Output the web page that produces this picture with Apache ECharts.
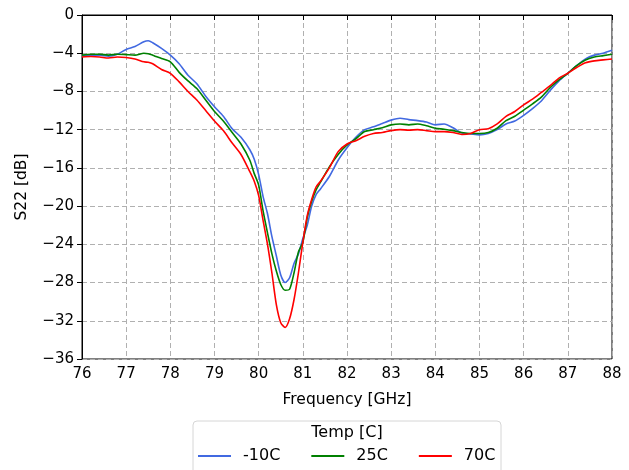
<!DOCTYPE html>
<html>
<head>
<meta charset="utf-8">
<script src="https://cdn.jsdelivr.net/npm/echarts@6/dist/echarts.min.js"></script>
<style>
  html, body { margin: 0; padding: 0; background: #ffffff; }
  #chart { width: 629px; height: 470px; }
</style>
</head>
<body>
<div id="chart"></div>
<script>
// Frequency sweep points (GHz)
const freqGHz = [
  76.0, 76.2, 76.4, 76.6, 76.8, 77.0, 77.2, 77.4, 77.5, 77.6, 77.8,
  78.0, 78.2, 78.4, 78.6, 78.8, 79.0, 79.2, 79.4, 79.6, 79.8, 79.9,
  80.0, 80.1, 80.2, 80.3, 80.4, 80.5, 80.6, 80.7, 80.8, 80.9,
  81.0, 81.1, 81.2, 81.3, 81.4, 81.6, 81.8,
  82.0, 82.2, 82.4, 82.6, 82.8, 83.0, 83.2, 83.4, 83.6, 83.8,
  84.0, 84.2, 84.4, 84.6, 84.8, 85.0, 85.2, 85.4, 85.6, 85.8,
  86.0, 86.2, 86.4, 86.6, 86.8, 87.0, 87.2, 87.4, 87.6, 87.8, 88.0
];

// S22 (dB) per temperature
const s22Minus10C = [
  -4.3, -4.2, -4.2, -4.3, -4.1, -3.6, -3.3, -2.8, -2.7, -2.9, -3.5,
  -4.2, -5.1, -6.3, -7.2, -8.5, -9.6, -10.6, -11.9, -12.8, -14.1, -15.1,
  -16.7, -19.0, -20.8, -23.2, -25.2, -27.2, -28.0, -27.5, -26.0, -25.0,
  -23.4, -22.0, -20.0, -18.8, -18.2, -16.9, -15.2,
  -13.9, -12.8, -12.0, -11.7, -11.35, -11.0, -10.8, -10.95, -11.05, -11.2,
  -11.5, -11.4, -11.8, -12.35, -12.45, -12.55, -12.4, -12.0, -11.4, -11.1,
  -10.5, -9.8, -9.0, -7.9, -6.9, -6.1, -5.3, -4.6, -4.2, -4.0, -3.7
];
const s22Plus25C = [
  -4.2, -4.1, -4.1, -4.2, -4.1, -4.15, -4.2, -4.0, -4.05, -4.2, -4.55,
  -4.9, -6.0, -6.9, -7.7, -8.9, -10.1, -11.1, -12.3, -13.5, -15.2, -16.6,
  -17.8, -20.5, -22.8, -25.0, -26.8, -28.2, -28.8, -28.7, -27.0, -24.8,
  -23.8, -21.2, -19.5, -18.3, -17.5, -15.9, -14.6,
  -13.6, -12.95, -12.2, -12.0, -11.8, -11.5, -11.4, -11.5, -11.4, -11.6,
  -11.85, -11.95, -12.1, -12.3, -12.4, -12.4, -12.3, -11.85, -11.05, -10.6,
  -9.95, -9.3, -8.6, -7.6, -6.8, -6.1, -5.3, -4.7, -4.4, -4.25, -4.1
];
const s22Plus70C = [
  -4.4, -4.35, -4.4, -4.5, -4.4, -4.45, -4.6, -4.9, -4.95, -5.1, -5.7,
  -6.1, -7.0, -8.0, -8.9, -10.0, -11.1, -12.1, -13.4, -14.6, -16.4, -17.4,
  -18.9, -21.5, -24.0, -27.0, -30.3, -32.2, -32.7, -31.8, -29.8, -27.0,
  -23.8, -21.0, -19.3, -18.0, -17.4, -16.0, -14.3,
  -13.5, -13.15, -12.7, -12.4, -12.3, -12.1, -12.0, -12.05, -12.0, -12.1,
  -12.2, -12.2, -12.3, -12.5, -12.4, -12.0, -11.9, -11.4, -10.6, -10.1,
  -9.4, -8.8, -8.1, -7.4, -6.6, -6.1, -5.5, -5.0, -4.8, -4.7, -4.6
];

const seriesNames = ['-10C', '25C', '70C'];
const seriesColors = ['#4169e1', '#008000', '#ff0000'];
const seriesValues = [s22Minus10C, s22Plus25C, s22Plus70C];

const FONT = 'DejaVu Sans';
const chart = echarts.init(document.getElementById('chart'), null, { renderer: 'canvas' });

const minusSign = v => String(v).replace('-', '\u2212');

chart.setOption({
  animation: false,
  backgroundColor: '#ffffff',
  textStyle: { fontFamily: FONT },
  grid: {
    left: 82, right: 17, top: 15, bottom: 111,
    show: true, borderColor: '#000000', borderWidth: 1,
    containLabel: false
  },
  xAxis: {
    type: 'value',
    min: 76, max: 88, interval: 1,
    name: 'Frequency [GHz]',
    nameLocation: 'middle',
    nameGap: 33,
    nameTextStyle: { fontFamily: FONT, fontSize: 15.5, color: '#000' },
    axisLine: { show: true, lineStyle: { color: '#000', width: 1 } },
    axisTick: { show: true, inside: false, length: 5, lineStyle: { color: '#000' } },
    axisLabel: { fontFamily: FONT, fontSize: 15, color: '#000', margin: 8 },
    splitLine: { show: true, lineStyle: { color: '#b0b0b0', type: [5, 3], width: 1 } }
  },
  yAxis: {
    type: 'value',
    min: -36, max: 0, interval: 4,
    name: 'S22 [dB]',
    nameLocation: 'middle',
    nameGap: 52,
    nameTextStyle: { fontFamily: FONT, fontSize: 15.5, color: '#000' },
    axisLine: { show: true, lineStyle: { color: '#000', width: 1 } },
    axisTick: { show: true, inside: false, length: 5, lineStyle: { color: '#000' } },
    axisLabel: { fontFamily: FONT, fontSize: 15, color: '#000', margin: 8, formatter: minusSign },
    splitLine: { show: true, lineStyle: { color: '#b0b0b0', type: [5, 3], width: 1 } }
  },
  legend: {
    left: 198, top: 448,
    padding: 0,
    itemWidth: 33, itemHeight: 2,
    itemGap: 31,
    icon: 'rect',
    data: seriesNames,
    textStyle: { fontFamily: FONT, fontSize: 16, color: '#000', padding: [0, 0, 0, 7] }
  },
  graphic: [
    {
      type: 'rect',
      shape: { x: 193, y: 421, width: 308, height: 80, r: 4 },
      style: { fill: 'rgba(255,255,255,0.8)', stroke: '#d6d6d6', lineWidth: 1 },
      z: 0
    },
    {
      type: 'text',
      x: 347, y: 433,
      style: {
        text: 'Temp [C]', fontFamily: FONT, fontSize: 16, fill: '#000',
        align: 'center', verticalAlign: 'middle'
      },
      z: 1
    }
  ],
  series: seriesNames.map((name, k) => ({
    name,
    type: 'line',
    data: freqGHz.map((f, i) => [f, seriesValues[k][i]]),
    showSymbol: false,
    symbol: 'none',
    smooth: 0.25,
    lineStyle: { color: seriesColors[k], width: 1.6 },
    itemStyle: { color: seriesColors[k] },
    z: 3
  }))
});
</script>
</body>
</html>
